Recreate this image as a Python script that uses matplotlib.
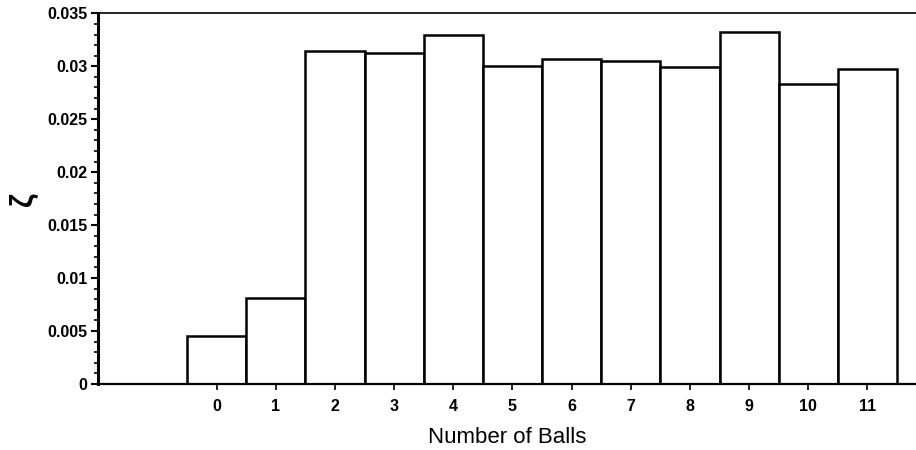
import matplotlib.pyplot as plt
from matplotlib.ticker import MultipleLocator, FormatStrFormatter

# number of balls and the measured zeta for each
balls = [0, 1, 2, 3, 4, 5, 6, 7, 8, 9, 10, 11]
zeta = [0.00454, 0.0081, 0.0314, 0.0313, 0.0330, 0.0300, 0.03065,
        0.0305, 0.0299, 0.0332, 0.02836, 0.02977]

plt.rcParams['font.family'] = ['Liberation Sans', 'DejaVu Sans']

fig = plt.figure(figsize=(9.16, 4.5), dpi=100)
ax = fig.add_axes([0.1073, 0.1467, 0.8927, 0.8237])

ax.bar(balls, zeta, width=1.0, color='white', edgecolor='black', linewidth=1.8)

ax.set_xlim(-2, 11.82)
ax.set_ylim(0, 0.035)

ax.set_xticks(balls)
ax.yaxis.set_major_locator(MultipleLocator(0.005))
ax.yaxis.set_minor_locator(MultipleLocator(0.001))
ax.yaxis.set_major_formatter(FormatStrFormatter('%g'))

ax.tick_params(axis='y', which='major', direction='out', length=5, width=1.5,
               pad=3, labelsize=11.5)
ax.tick_params(axis='y', which='minor', direction='out', length=3, width=1.2)
ax.tick_params(axis='x', which='major', direction='out', length=4, width=1.2,
               pad=7, labelsize=11.5)
for lbl in ax.get_xticklabels() + ax.get_yticklabels():
    lbl.set_fontweight('bold')

ax.spines['right'].set_visible(False)
ax.spines['left'].set_linewidth(2.2)
ax.spines['bottom'].set_linewidth(1.6)
ax.spines['top'].set_linewidth(1.2)

ax.set_xlabel('Number of Balls', fontsize=16, labelpad=9)
ax.set_ylabel('ζ', fontsize=22, fontweight='bold', labelpad=6)

fig.savefig('out.png', dpi=100)
